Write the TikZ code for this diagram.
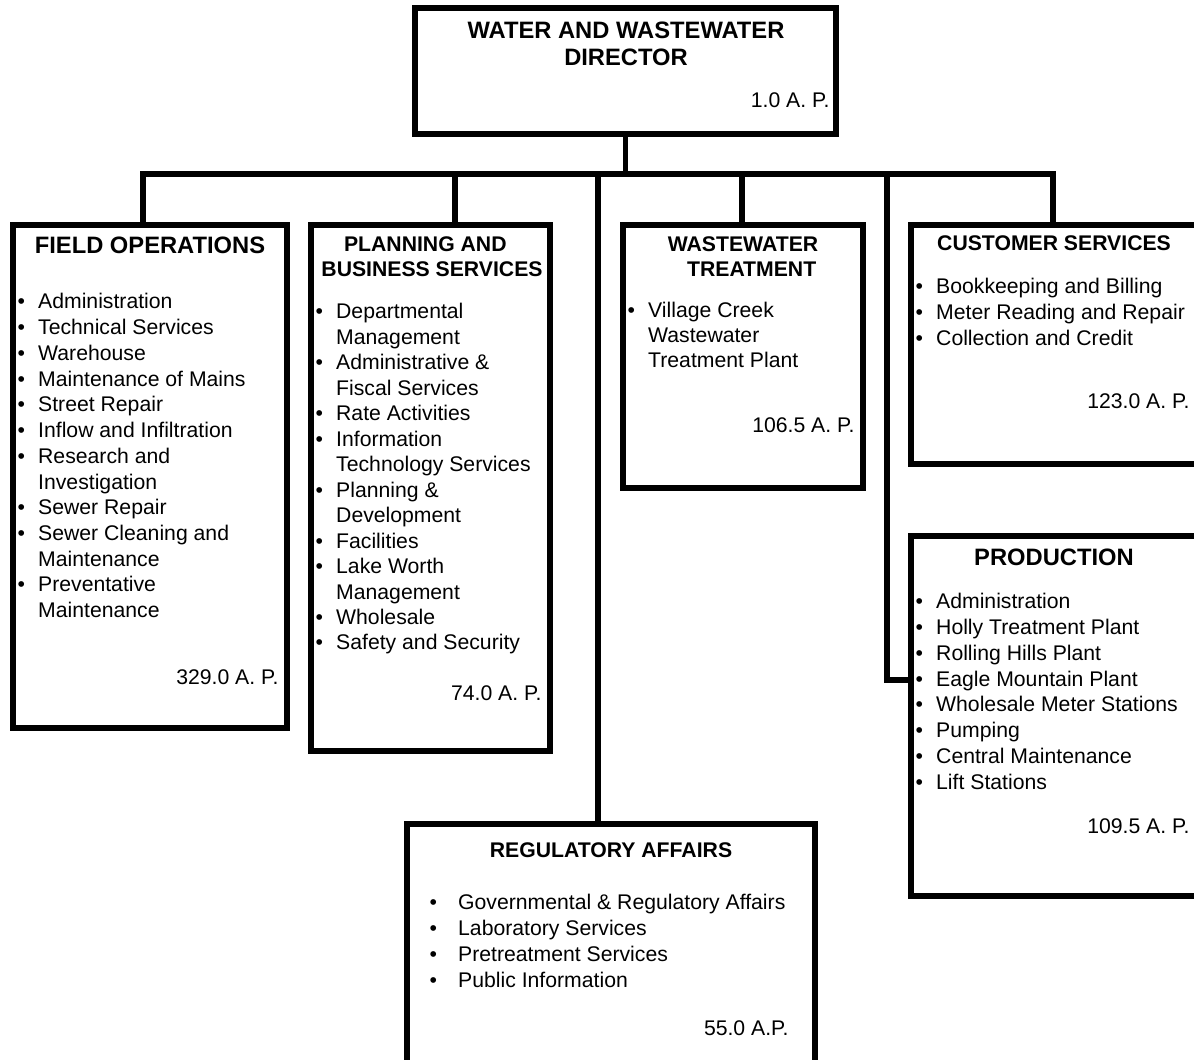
\documentclass[tikz,border=0pt]{standalone}
\usepackage{fontspec}
\setmainfont{Liberation Sans}
\usetikzlibrary{positioning}

\newcommand{\bul}{\makebox[15.5pt][l]{\textbullet}}
\newcommand{\ind}{\hspace*{15.5pt}}
\newcommand{\rbul}{\makebox[21.5pt][l]{\textbullet}}

\begin{document}
\begin{tikzpicture}[x=0.75pt, y=-0.75pt, line width=3.8pt,
    unit/.style={draw, rectangle, anchor=north west, inner sep=0pt, outer sep=0pt},
    link/.style={line join=miter, line cap=butt},
    bigttl/.style={font=\bfseries\fontsize{17.8}{20.6}\selectfont, align=center, inner sep=0pt},
    ttl/.style={font=\bfseries\fontsize{15.9}{18.6}\selectfont, align=center, inner sep=0pt},
    items/.style={font=\fontsize{15.9}{19.3}\selectfont, align=left, anchor=north west, inner sep=0pt},
    ap/.style={font=\fontsize{15.9}{19.3}\selectfont, anchor=base east, inner sep=0pt}]

  \useasboundingbox (0,0) rectangle (1194,1059);
  \clip (0,0) rectangle (1194,1059);

  % director
  \node[unit, minimum width=315.75pt, minimum height=94.5pt] (dir) at (415,8) {};
  \node[bigttl, anchor=north] (dirT) at (626,19) {WATER AND WASTEWATER\\DIRECTOR};
  \node[ap] (dirAP) at (832,108) {1.0 A.\ P.};

  % field operations
  \node[unit, minimum width=205.5pt, minimum height=377.25pt] (fo) at (13,225) {};
  \node[bigttl, anchor=base] (foT) at (150,253) {FIELD OPERATIONS};
  \node[items] (foL) at (15,291) {\bul Administration\\ \bul Technical Services\\
    \bul Warehouse\\ \bul Maintenance of Mains\\ \bul Street Repair\\
    \bul Inflow and Infiltration\\ \bul Research and\\ \ind Investigation\\
    \bul Sewer Repair\\ \bul Sewer Cleaning and\\ \ind Maintenance\\
    \bul Preventative\\ \ind Maintenance};
  \node[ap] (foAP) at (281,684) {329.0 A.\ P.};

  % planning and business services
  \node[unit, minimum width=179.25pt, minimum height=394.5pt] (pbs) at (311,225) {};
  \node[ttl, anchor=north] (pbsT) at (432,234) {PLANNING AND\hspace*{10pt}\\BUSINESS SERVICES};
  \node[items, font=\fontsize{15.9}{19.1}\selectfont] (pbsL) at (313,301) {\bul Departmental\\ \ind Management\\
    \bul Administrative \&\\ \ind Fiscal Services\\ \bul Rate Activities\\
    \bul Information\\ \ind Technology Services\\ \bul Planning \&\\
    \ind Development\\ \bul Facilities\\ \bul Lake Worth\\ \ind Management\\
    \bul Wholesale\\ \bul Safety and Security};
  \node[ap] (pbsAP) at (544,700) {74.0 A.\ P.};

  % wastewater treatment
  \node[unit, minimum width=180pt, minimum height=197.25pt] (wwt) at (623,225) {};
  \node[ttl, anchor=north] (wwtT) at (743,234) {WASTEWATER\\\hspace*{13pt}TREATMENT};
  \node[items, font=\fontsize{15.9}{18.5}\selectfont] (wwtL) at (625,300) {\bul Village Creek\\ \ind Wastewater\\
    \ind Treatment Plant};
  \node[ap] (wwtAP) at (857,432) {106.5 A.\ P.};

  % customer services
  \node[unit, minimum width=215.25pt, minimum height=179.25pt] (cs) at (911,225) {};
  \node[ttl, anchor=base] (csT) at (1054,250) {CUSTOMER SERVICES};
  \node[items] (csL) at (913,276) {\bul Bookkeeping and Billing\\
    \bul Meter Reading and Repair\\ \bul Collection and Credit};
  \node[ap] (csAP) at (1192,408) {123.0 A.\ P.};

  % production
  \node[unit, minimum width=215.25pt, minimum height=270pt] (prod) at (911,536) {};
  \node[bigttl, anchor=base] (prodT) at (1054,565) {PRODUCTION};
  \node[items] (prodL) at (913,591) {\bul Administration\\ \bul Holly Treatment Plant\\
    \bul Rolling Hills Plant\\ \bul Eagle Mountain Plant\\
    \bul Wholesale Meter Stations\\ \bul Pumping\\ \bul Central Maintenance\\
    \bul Lift Stations};
  \node[ap] (prodAP) at (1192,833) {109.5 A.\ P.};

  % regulatory affairs
  \node[unit, minimum width=306pt, minimum height=187.5pt] (reg) at (407,824) {};
  \node[ttl, anchor=base] (regT) at (611,857) {REGULATORY AFFAIRS};
  \node[items] (regL) at (427,892) {\rbul Governmental \& Regulatory Affairs\\
    \rbul Laboratory Services\\ \rbul Pretreatment Services\\ \rbul Public Information};
  \node[ap] (regAP) at (791,1035) {55.0 A.P.};

  % connectors
  \coordinate (jFO) at (143,174);
  \coordinate (jPB) at (455,174);
  \coordinate (jRA) at (598,174);
  \coordinate (jWW) at (742,174);
  \coordinate (jPR) at (887,174);
  \coordinate (jCS) at (1053,174);
  \coordinate (kPR) at (887,680);

  \draw[link] (dir.south) -- (dir.south |- jFO);
  \draw[link] (jFO |- fo.north) -- (jFO) -- (jCS) -- (jCS |- cs.north);
  \draw[link] (jPB) -- (jPB |- pbs.north);
  \draw[link] (jRA) -- (jRA |- reg.north);
  \draw[link] (jWW) -- (jWW |- wwt.north);
  \draw[link] (jPR) -- (kPR) -- (kPR -| prod.west);
\end{tikzpicture}
\end{document}
